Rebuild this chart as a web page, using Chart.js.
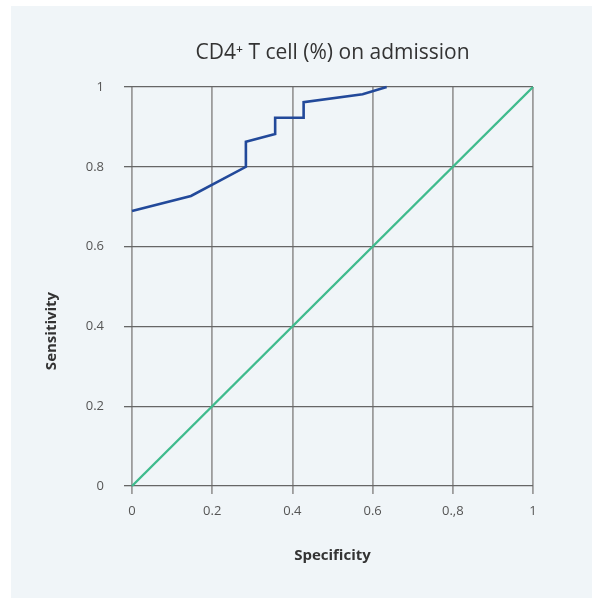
<!DOCTYPE html>
<html>
<head>
<meta charset="utf-8">
<script src="https://cdn.jsdelivr.net/npm/chart.js@4/dist/chart.umd.min.js"></script>
<style>
  html, body { margin: 0; padding: 0; background: #ffffff; }
  #wrap { position: absolute; left: 0; top: 0; width: 592px; height: 598px; }
</style>
</head>
<body>
<div id="wrap"><canvas id="c" width="592" height="598"></canvas></div>
<script>
// ---- data ----
const titleText = 'CD4\u207A T cell (%) on admission';
const xTitleText = 'Specificity';
const yTitleText = 'Sensitivity';
const xTickLabels = ['0', '0.2', '0.4', '0.6', '0.,8', '1'];
const yTickLabels = ['0', '0.2', '0.4', '0.6', '0.8', '1'];
const rocX = [0, 0.147, 0.284, 0.284, 0.357, 0.357, 0.428, 0.428, 0.575, 0.635];
const rocY = [0.689, 0.727, 0.800, 0.863, 0.882, 0.923, 0.923, 0.962, 0.982, 1.0];
const refX = [0, 1];
const refY = [0, 1];

const panelBg = {
  id: 'panelBg',
  beforeDraw(chart) {
    const ctx = chart.ctx;
    ctx.save();
    ctx.fillStyle = '#f0f5f8';
    ctx.fillRect(11, 6, chart.width - 11, chart.height - 6);
    ctx.restore();
  },
  afterDraw(chart) {
    const ctx = chart.ctx;
    const a = chart.chartArea;
    ctx.save();
    ctx.fillStyle = '#333333';
    ctx.textAlign = 'center';
    ctx.textBaseline = 'middle';
    ctx.font = 'normal 21px "Open Sans"';
    ctx.fillText(titleText, (a.left + a.right) / 2, 53);
    ctx.translate(52, 331);
    ctx.rotate(-Math.PI / 2);
    ctx.font = 'bold 15px "Open Sans"';
    ctx.fillText(yTitleText, 0, 0);
    ctx.restore();
  }
};

const toPts = (xs, ys) => xs.map((x, i) => ({ x: x, y: ys[i] }));

new Chart(document.getElementById('c'), {
  type: 'scatter',
  data: {
    datasets: [
      {
        data: toPts(rocX, rocY),
        showLine: true,
        borderColor: '#22499a',
        borderWidth: 2.6,
        pointRadius: 0,
        tension: 0,
        clip: false
      },
      {
        data: toPts(refX, refY),
        showLine: true,
        borderColor: '#3fbb8d',
        borderWidth: 2.4,
        pointRadius: 0,
        tension: 0,
        clip: false
      }
    ]
  },
  options: {
    responsive: false,
    animation: false,
    layout: { padding: { left: 0, right: 59, top: 87, bottom: 0 } },
    plugins: {
      legend: { display: false },
      tooltip: { enabled: false },
      title: { display: false }
    },
    scales: {
      x: {
        type: 'linear',
        min: 0, max: 1,
        afterFit(s) { s.height = 112; },
        border: { display: false },
        grid: { color: '#9c9c9c', lineWidth: 1.8, tickLength: 8, drawTicks: true },
        ticks: {
          stepSize: 0.2,
          padding: 9,
          color: '#555555',
          font: { family: 'Open Sans', size: 13 },
          callback: (v, i) => xTickLabels[i]
        },
        title: {
          display: true,
          text: xTitleText,
          color: '#333333',
          font: { family: 'Open Sans', size: 15, weight: 'bold', lineHeight: 1.2 },
          padding: { top: 0, bottom: 33 }
        }
      },
      y: {
        type: 'linear',
        min: 0, max: 1,
        afterFit(s) { s.width = 132; },
        border: { display: false },
        grid: { color: '#666666', lineWidth: 1.3, tickLength: 8, drawTicks: true },
        ticks: {
          stepSize: 0.2,
          padding: 20,
          color: '#555555',
          font: { family: 'Open Sans', size: 13 },
          callback: (v, i) => yTickLabels[i]
        },
        title: { display: false }
      }
    }
  },
  plugins: [panelBg]
});
</script>
</body>
</html>
